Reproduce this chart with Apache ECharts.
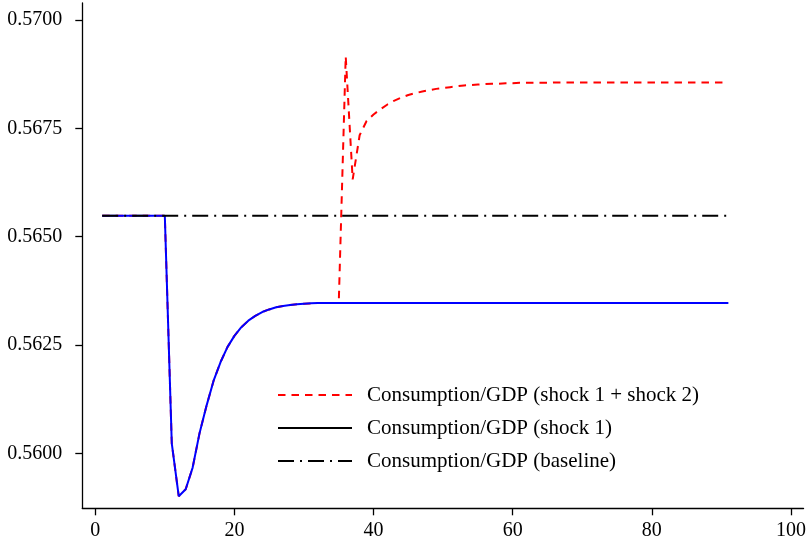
<!DOCTYPE html>
<html>
<head>
<meta charset="utf-8">
<script src="https://cdn.jsdelivr.net/npm/echarts@6/dist/echarts.min.js"></script>
<style>
html,body{margin:0;padding:0;background:#fff;}
#chart{width:809px;height:543px;}
</style>
</head>
<body>
<div id="chart"></div>
<script>
const periods = [1,2,3,4,5,6,7,8,9,10,11,12,13,14,15,16,17,18,19,20,21,22,23,24,25,26,27,28,29,30,
31,32,33,34,35,36,37,38,39,40,41,42,43,44,45,46,47,48,49,50,51,52,53,54,55,56,57,58,59,60,
61,62,63,64,65,66,67,68,69,70,71,72,73,74,75,76,77,78,79,80,81,82,83,84,85,86,87,88,89,90,91];

const shock12 = [
0.56548,0.56548,0.56548,0.56548,0.56548,0.56548,0.56548,0.56548,0.56548,0.56548,
0.56023,0.55901,0.55917,0.55967,0.56047,0.56110,0.56167,0.56210,0.56245,0.56271,
0.56291,0.56306,0.56317,0.56326,0.56332,0.56337,0.56340,0.56342,0.56344,0.56345,
0.56346,0.56347,0.56347,0.56347,0.56347,
0.56916,0.56632,
0.56734,0.56767,0.56782,0.56794,0.56805,0.56814,0.56821,0.56827,0.56831,0.56835,
0.56838,0.56841,0.56843,0.56845,0.56847,0.56849,0.56850,0.56851,0.56852,0.56853,
0.56853,0.56854,0.56854,0.56855,0.56855,0.56855,0.56855,0.56855,0.56856,
0.56856,0.56856,0.56856,0.56856,0.56856,0.56856,0.56856,0.56856,0.56856,0.56856,
0.56856,0.56856,0.56856,0.56856,0.56856,0.56856,0.56856,0.56856,0.56856,0.56856,
0.56856,0.56856,0.56856,0.56856,0.56856];

const shock1 = [
0.56548,0.56548,0.56548,0.56548,0.56548,0.56548,0.56548,0.56548,0.56548,0.56548,
0.56023,0.55901,0.55917,0.55967,0.56047,0.56110,0.56167,0.56210,0.56245,0.56271,
0.56291,0.56306,0.56317,0.56326,0.56332,0.56337,0.56340,0.56342,0.56344,0.56345,
0.56346,0.56347,0.56347,0.56347,0.56347,
0.56347,0.56347,0.56347,0.56347,0.56347,0.56347,0.56347,0.56347,0.56347,0.56347,
0.56347,0.56347,0.56347,0.56347,0.56347,0.56347,0.56347,0.56347,0.56347,0.56347,
0.56347,0.56347,0.56347,0.56347,0.56347,
0.56347,0.56347,0.56347,0.56347,0.56347,0.56347,0.56347,0.56347,0.56347,0.56347,
0.56347,0.56347,0.56347,0.56347,0.56347,0.56347,0.56347,0.56347,0.56347,0.56347,
0.56347,0.56347,0.56347,0.56347,0.56347,0.56347,0.56347,0.56347,0.56347,0.56347,
0.56347];

const baseline = [
0.56548,0.56548,0.56548,0.56548,0.56548,0.56548,0.56548,0.56548,0.56548,0.56548,
0.56548,0.56548,0.56548,0.56548,0.56548,0.56548,0.56548,0.56548,0.56548,0.56548,
0.56548,0.56548,0.56548,0.56548,0.56548,0.56548,0.56548,0.56548,0.56548,0.56548,
0.56548,0.56548,0.56548,0.56548,0.56548,0.56548,0.56548,0.56548,0.56548,0.56548,
0.56548,0.56548,0.56548,0.56548,0.56548,0.56548,0.56548,0.56548,0.56548,0.56548,
0.56548,0.56548,0.56548,0.56548,0.56548,0.56548,0.56548,0.56548,0.56548,0.56548,
0.56548,0.56548,0.56548,0.56548,0.56548,0.56548,0.56548,0.56548,0.56548,0.56548,
0.56548,0.56548,0.56548,0.56548,0.56548,0.56548,0.56548,0.56548,0.56548,0.56548,
0.56548,0.56548,0.56548,0.56548,0.56548,0.56548,0.56548,0.56548,0.56548,0.56548,
0.56548];

const xTicks = [0, 20, 40, 60, 80, 100];
const yTicks = [0.5600, 0.5625, 0.5650, 0.5675, 0.5700];

const names = [
  'Consumption/GDP (shock 1 + shock 2)',
  'Consumption/GDP (shock 1)',
  'Consumption/GDP (baseline)'
];

function pairs(vals){ return periods.map((p,i)=>[p, vals[i]]); }

const FONT = "'Liberation Serif', 'DejaVu Serif', serif";
const chart = echarts.init(document.getElementById('chart'), null, {renderer:'canvas'});

chart.setOption({
  animation: false,
  backgroundColor: '#ffffff',
  grid: {left: 82.3, right: 2, top: 3, bottom: 34.7, containLabel: false},
  xAxis: {
    type: 'value',
    min: -1.86, max: 101.8,
    axisLine: {show: true, onZero: false, lineStyle: {color: '#000', width: 1.3}},
    axisTick: {show: true, length: 7, customValues: xTicks, lineStyle: {color: '#000', width: 1.3}},
    axisLabel: {customValues: xTicks, margin: 12, color: '#000', fontSize: 20, fontFamily: FONT},
    splitLine: {show: false}
  },
  yAxis: {
    type: 'value',
    min: 0.55873, max: 0.570392,
    axisLine: {show: true, onZero: false, lineStyle: {color: '#000', width: 1.3}},
    axisTick: {show: true, length: 7, customValues: yTicks, lineStyle: {color: '#000', width: 1.3}},
    axisLabel: {customValues: yTicks, margin: 20, color: '#000', fontSize: 20, fontFamily: FONT,
      formatter: v => v.toFixed(4)},
    splitLine: {show: false}
  },
  legend: {
    orient: 'vertical',
    left: 277, top: 384.5, padding: 0,
    itemWidth: 74, itemHeight: 14, itemGap: 12,
    itemStyle: {opacity: 0},
    textStyle: {fontSize: 21, fontFamily: FONT, color: '#000', lineHeight: 21, padding: [0,0,0,10]},
    data: [
      {name: names[0]},
      {name: names[1], lineStyle: {color: '#000'}},
      {name: names[2]}
    ]
  },
  series: [
    {
      name: names[0], type: 'line', data: pairs(shock12), symbol: 'none', z: 2,
      lineStyle: {color: '#ff0000', width: 2, type: [7.5, 6]},
      itemStyle: {color: '#ff0000'}
    },
    {
      name: names[1], type: 'line', data: pairs(shock1), symbol: 'none', z: 3,
      lineStyle: {color: '#0000ff', width: 2, type: 'solid'},
      itemStyle: {color: '#0000ff'}
    },
    {
      name: names[2], type: 'line', data: pairs(baseline), symbol: 'none', z: 4,
      lineStyle: {color: '#000000', width: 2, type: [16, 6, 2, 6]},
      itemStyle: {color: '#000000'}
    }
  ]
});
</script>
</body>
</html>
